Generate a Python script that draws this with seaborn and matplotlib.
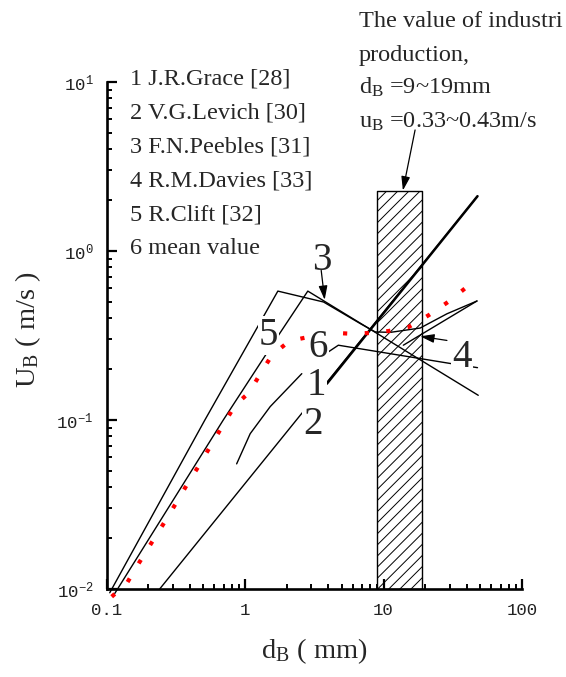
import matplotlib
matplotlib.use('Agg')
import matplotlib.pyplot as plt
import seaborn as sns
from matplotlib.ticker import FixedLocator, FixedFormatter, LogLocator, NullFormatter

# bubble diameter d_B (mm) vs rise velocity U_B (m/s)
grace_x = [0.87, 1.09, 1.52, 2.57]
grace_y = [0.055, 0.083, 0.12, 0.188]
grace_big_x = [3.9, 47.7]
grace_big_y = [0.164, 2.11]
levich_x = [0.242, 47.7]
levich_y = [0.010, 2.11]
peebles_x = [0.1146, 0.695, 1.743, 2.84, 48.3]
peebles_y = [0.0094, 0.0997, 0.317, 0.579, 0.140]
davies_x = [13.9, 47.3]
davies_y = [0.277, 0.506]
clift_x = [0.1055, 0.512, 1.726, 3.69, 6.79, 8.71, 11.2, 18.4, 28.7, 47.3]
clift_y = [0.0095, 0.0997, 0.579, 0.499, 0.372, 0.332, 0.330, 0.35, 0.425, 0.506]
other_x = [4.0, 4.72, 30.3, 47.7]
other_y = [0.253, 0.277, 0.216, 0.204]
mean_x = [0.109, 0.141, 0.171, 0.209, 0.257, 0.314, 0.382, 0.471, 0.572, 0.695, 0.848,
          1.071, 1.301, 1.563, 2.093, 4.054, 5.585, 8.02, 10.87, 15.16, 21.14, 29.2, 40.7]
mean_y = [0.0090, 0.0109, 0.0142, 0.0185, 0.0242, 0.0317, 0.0416, 0.0546, 0.0717, 0.0935, 0.1223,
          0.1453, 0.1899, 0.2415, 0.2934, 0.3289, 0.3245, 0.327, 0.336, 0.3548, 0.4164, 0.4989, 0.620]

industrial_d = [9, 19]
industrial_top = 2.26

legend_lines = ['1 J.R.Grace [28]', '2 V.G.Levich [30]', '3 F.N.Peebles [31]',
                '4 R.M.Davies [33]', '5 R.Clift [32]', '6 mean value']
note_lines = ['The value of industri', 'production,',
              'd$_B$ =9~19mm', 'u$_B$ =0.33~0.43m/s']

# curve number labels: (text, x, baseline y)
curve_labels = [('1', 3.25, 0.1403), ('2', 3.095, 0.0824), ('3', 3.59, 0.768),
                ('4', 36.7, 0.2051), ('5', 1.48, 0.2767), ('6', 3.35, 0.2351)]

xticks = [0.1, 1, 10, 100]
xticklabels = ['0.1', '1', '10', '100']
yticks = [0.01, 0.1, 1, 10]
yticklabels = ['10$^{-2}$', '10$^{-1}$', '10$^{0}$', '10$^{1}$']

sns.set_style('ticks')
plt.rcParams['font.family'] = ['Liberation Serif', 'DejaVu Serif']
plt.rcParams['mathtext.default'] = 'regular'
plt.rcParams['hatch.linewidth'] = 0.7

fig = plt.figure(figsize=(5.66, 6.77), dpi=100)
ax = fig.add_axes([0.1882, 0.130, 0.7341, 0.7489])
ax.set_xscale('log')
ax.set_yscale('log')

# industrial range box
ax.fill_between(industrial_d, 0.01, industrial_top, facecolor='none', edgecolor='black',
                hatch='///', lw=1.0, zorder=1)

line_kw = dict(ax=ax, color='black', sort=False, estimator=None, clip_on=False, zorder=3)
sns.lineplot(x=grace_x, y=grace_y, lw=1.0, **line_kw)
sns.lineplot(x=levich_x, y=levich_y, lw=1.0, **line_kw)
sns.lineplot(x=grace_big_x, y=grace_big_y, lw=1.8, **line_kw)
sns.lineplot(x=peebles_x, y=peebles_y, lw=1.0, **line_kw)
sns.lineplot(x=davies_x, y=davies_y, lw=1.0, **line_kw)
sns.lineplot(x=clift_x, y=clift_y, lw=1.0, **line_kw)
sns.lineplot(x=other_x, y=other_y, lw=1.0, **line_kw)
sns.lineplot(x=mean_x, y=mean_y, ax=ax, color='red', lw=3.0, linestyle=(0, (1.0, 4.2)),
             sort=False, estimator=None, clip_on=False, zorder=4)

ax.set_xlim(0.1, 100)
ax.set_ylim(0.01, 10)

for txt, x, y in curve_labels:
    ax.text(x, y, txt, fontsize=28, ha='center', va='baseline', zorder=6,
            bbox=dict(boxstyle='square,pad=0.03', fc='white', ec='none'))

arrow_kw = dict(arrowstyle='-|>,head_length=0.7,head_width=0.22', color='black',
                lw=0.9, mutation_scale=12, shrinkA=0, shrinkB=0)
ax.annotate('', xy=(3.76, 0.514), xytext=(3.548, 0.768), arrowprops=arrow_kw,
            annotation_clip=False, zorder=7)
ax.annotate('', xy=(18.4, 0.3126), xytext=(28.7, 0.2956), arrowprops=arrow_kw,
            annotation_clip=False, zorder=7)
ax.annotate('', xy=(13.8, 2.28), xytext=(16.9, 5.2), arrowprops=arrow_kw,
            annotation_clip=False, zorder=7)

# axes styling
sns.despine(ax=ax)
for side in ['left', 'bottom']:
    ax.spines[side].set_linewidth(1.9)
    ax.spines[side].set_color('black')
ax.xaxis.set_major_locator(FixedLocator(xticks))
ax.xaxis.set_major_formatter(FixedFormatter(xticklabels))
ax.yaxis.set_major_locator(FixedLocator(yticks))
ax.yaxis.set_major_formatter(FixedFormatter(yticklabels))
for axis in [ax.xaxis, ax.yaxis]:
    axis.set_minor_locator(LogLocator(base=10, subs=range(2, 10)))
    axis.set_minor_formatter(NullFormatter())
ax.tick_params(which='major', direction='in', length=7.2, width=1.6, color='black')
ax.tick_params(which='minor', direction='in', length=3.6, width=1.4, color='black')
ax.tick_params(axis='x', which='major', pad=10)
ax.tick_params(axis='y', which='major', pad=9.5)
for lab in ax.get_xticklabels() + ax.get_yticklabels():
    lab.set_fontfamily(['Liberation Mono', 'DejaVu Sans Mono'])
    lab.set_fontsize(12.5)
    lab.set_color('#222222')

ax.set_xlabel('d$_B$ ( mm)', fontsize=20.5)
ax.set_ylabel('U$_B$ ( m/s )', fontsize=20.5)
ax.xaxis.set_label_coords(0.5, -0.094)
ax.yaxis.set_label_coords(-0.154, 0.511)

W, H = 566, 677
for i, txt in enumerate(legend_lines):
    fig.text(130 / W, 1 - (84 + 34 * i) / H, txt, fontsize=17.5, va='baseline')
for i, txt in enumerate(note_lines):
    fig.text(359 / W, 1 - (27 + 33.5 * i) / H, txt, fontsize=17.5, va='baseline')

fig.savefig('out.png', dpi=100)
